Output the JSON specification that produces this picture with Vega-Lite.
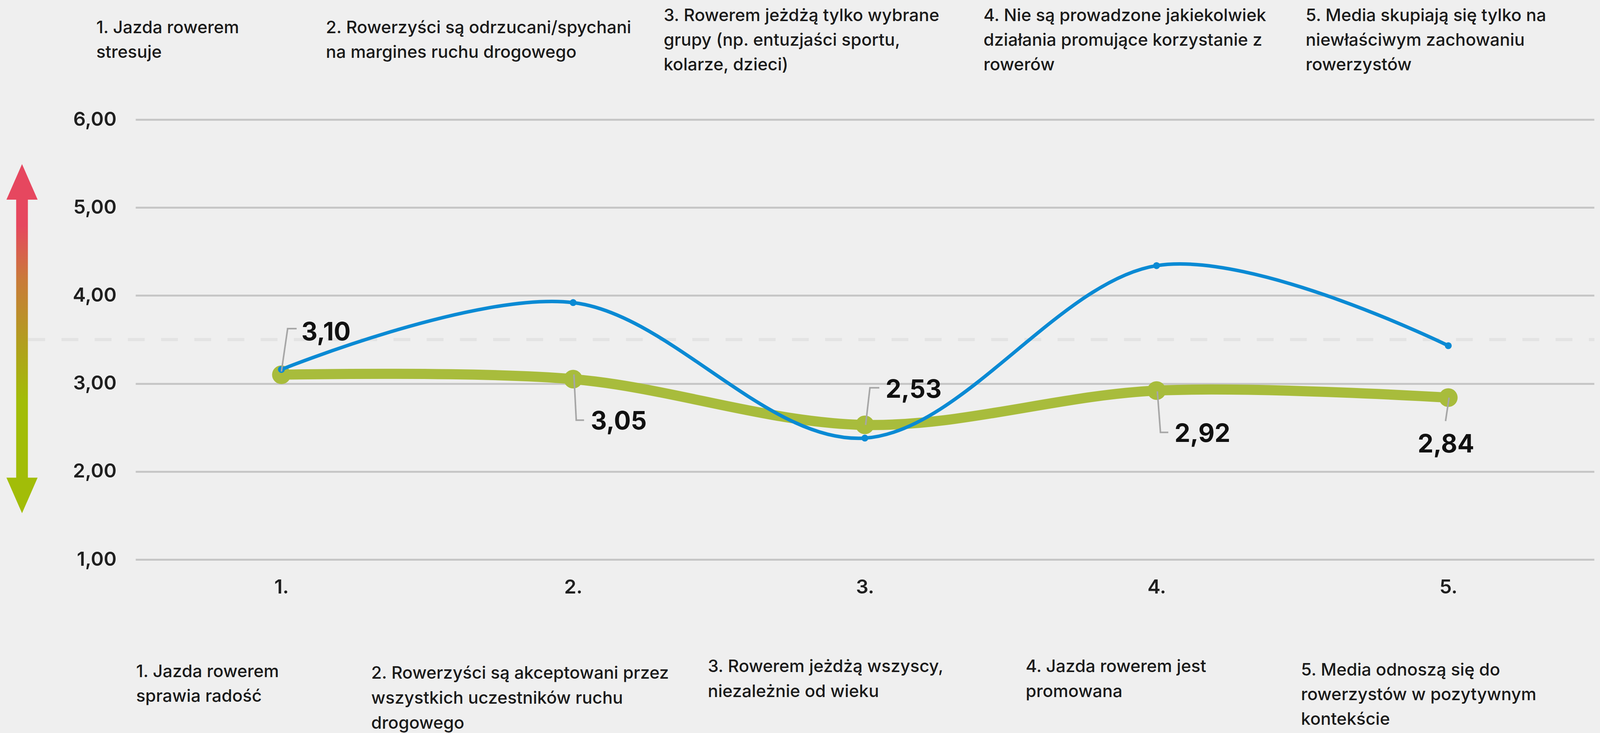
{
  "$schema": "https://vega.github.io/schema/vega-lite/v6.json",
  "width": 3734,
  "height": 1126,
  "autosize": {"type": "none"},
  "padding": {"left": 347, "top": 306, "right": 15, "bottom": 444},
  "background": "#efefef",
  "config": {
    "view": {"stroke": null},
    "font": "Inter",
    "locale": {"number": {"decimal": ",", "thousands": " ", "grouping": [3], "currency": ["", " zł"]}}
  },
  "datasets": {
    "scores": [
      {"cat": "1.", "wynik": 3.10, "porownanie": 3.16},
      {"cat": "2.", "wynik": 3.05, "porownanie": 3.92},
      {"cat": "3.", "wynik": 2.53, "porownanie": 2.38},
      {"cat": "4.", "wynik": 2.92, "porownanie": 4.34},
      {"cat": "5.", "wynik": 2.84, "porownanie": 3.43}
    ],
    "notes": [
      {"cat": "1.", "pos": "top", "text": "1. Jazda rowerem\nstresuje"},
      {"cat": "2.", "pos": "top", "text": "2. Rowerzyści są odrzucani/spychani\nna margines ruchu drogowego"},
      {"cat": "3.", "pos": "top", "text": "3. Rowerem jeżdżą tylko wybrane\ngrupy (np. entuzjaści sportu,\nkolarze, dzieci)"},
      {"cat": "4.", "pos": "top", "text": "4. Nie są prowadzone jakiekolwiek\ndziałania promujące korzystanie z\nrowerów"},
      {"cat": "5.", "pos": "top", "text": "5. Media skupiają się tylko na\nniewłaściwym zachowaniu\nrowerzystów"},
      {"cat": "1.", "pos": "bottom", "text": "1. Jazda rowerem\nsprawia radość"},
      {"cat": "2.", "pos": "bottom", "text": "2. Rowerzyści są akceptowani przez\nwszystkich uczestników ruchu\ndrogowego"},
      {"cat": "3.", "pos": "bottom", "text": "3. Rowerem jeżdżą wszyscy,\nniezależnie od wieku"},
      {"cat": "4.", "pos": "bottom", "text": "4. Jazda rowerem jest\npromowana"},
      {"cat": "5.", "pos": "bottom", "text": "5. Media odnoszą się do\nrowerzystów w pozytywnym\nkontekście"}
    ]
  },
  "layer": [
    {
      "data": {"name": "scores"},
      "mark": {"type": "line", "interpolate": "cardinal", "color": "#a8bc3c", "strokeWidth": 26, "strokeCap": "round", "opacity": 0},
      "encoding": {
        "x": {
          "field": "cat", "type": "ordinal",
          "scale": {"type": "point", "domain": ["1.", "2.", "3.", "4.", "5."], "padding": 0.5},
          "axis": {"title": null, "domain": false, "ticks": false, "tickSize": 0, "grid": false, "labelAngle": 0, "labelBaseline": "middle", "labelPadding": 71, "labelFontSize": 50, "labelFontWeight": 600, "labelColor": "#1f1f1f", "labelFont": "Inter"}
        },
        "y": {
          "field": "wynik", "type": "quantitative",
          "scale": {"domain": [1, 6], "nice": false, "zero": false},
          "axis": {"title": null, "values": [1, 2, 3, 4, 5, 6], "format": ".2f", "domain": false, "ticks": false, "tickSize": 0, "grid": true, "gridColor": "#c6c6c6", "gridWidth": 5, "labelPadding": 49, "labelFontSize": 50, "labelFontWeight": 600, "labelColor": "#1f1f1f", "labelFont": "Inter"}
        }
      }
    },
    {
      "data": {"values": [{}]},
      "mark": {"type": "rule", "color": "#e3e3e3", "strokeWidth": 8, "strokeDash": [43, 42], "xOffset": -648, "x2Offset": 374},
      "encoding": {
        "x": {"datum": "1.", "type": "ordinal"},
        "x2": {"datum": "5."},
        "y": {"datum": 3.5, "type": "quantitative"}
      }
    },
    {
      "data": {"values": [{}]},
      "mark": {
        "type": "rect", "xOffset": -679, "x2Offset": -649,
        "fill": {"gradient": "linear", "x1": 0, "y1": 0, "x2": 0, "y2": 1, "stops": [
          {"offset": 0, "color": "#e6475f"},
          {"offset": 0.1, "color": "#e6475f"},
          {"offset": 0.29, "color": "#c97a3a"},
          {"offset": 0.53, "color": "#b0a11c"},
          {"offset": 0.72, "color": "#a2bd08"},
          {"offset": 1, "color": "#a2bd08"}
        ]}
      },
      "encoding": {
        "x": {"datum": "1.", "type": "ordinal"},
        "x2": {"datum": "1."},
        "y": {"datum": 5.12, "type": "quantitative"},
        "y2": {"datum": 1.9}
      }
    },
    {
      "data": {"values": [{}]},
      "mark": {"type": "point", "shape": "M-0.877,1L0,-1L0.877,1Z", "filled": true, "opacity": 1, "size": 8281, "color": "#e6475f", "strokeWidth": 0, "xOffset": -664},
      "encoding": {
        "x": {"datum": "1.", "type": "ordinal"},
        "y": {"datum": 5.292, "type": "quantitative"}
      }
    },
    {
      "data": {"values": [{}]},
      "mark": {"type": "point", "shape": "M-0.877,-1L0,1L0.877,-1Z", "filled": true, "opacity": 1, "size": 8281, "color": "#a2bd08", "strokeWidth": 0, "xOffset": -664},
      "encoding": {
        "x": {"datum": "1.", "type": "ordinal"},
        "y": {"datum": 1.728, "type": "quantitative"}
      }
    },
    {
      "data": {"name": "scores"},
      "mark": {"type": "line", "interpolate": "cardinal", "color": "#a8bc3c", "strokeWidth": 26, "strokeCap": "round"},
      "encoding": {
        "x": {"field": "cat", "type": "ordinal"},
        "y": {"field": "wynik", "type": "quantitative"}
      }
    },
    {
      "data": {"name": "scores"},
      "mark": {"type": "circle", "size": 2290, "color": "#a8bc3c", "opacity": 1},
      "encoding": {
        "x": {"field": "cat", "type": "ordinal"},
        "y": {"field": "wynik", "type": "quantitative"}
      }
    },
    {
      "data": {"name": "scores"},
      "mark": {"type": "line", "interpolate": "cardinal", "color": "#0a8ad4", "strokeWidth": 9, "strokeCap": "round"},
      "encoding": {
        "x": {"field": "cat", "type": "ordinal"},
        "y": {"field": "porownanie", "type": "quantitative"}
      }
    },
    {
      "data": {"name": "scores"},
      "mark": {"type": "circle", "size": 314, "color": "#0a8ad4", "opacity": 1},
      "encoding": {
        "x": {"field": "cat", "type": "ordinal"},
        "y": {"field": "porownanie", "type": "quantitative"}
      }
    },
    {
      "data": {"name": "scores"},
      "transform": [{"filter": "datum.cat === '1.'"}],
      "mark": {"type": "rule", "color": "#a6a6a6", "strokeWidth": 4, "xOffset": 0, "yOffset": -8, "x2Offset": 16, "y2Offset": -118},
      "encoding": {"x": {"field": "cat", "type": "ordinal"}, "x2": {"field": "cat"}, "y": {"field": "wynik", "type": "quantitative"}, "y2": {"field": "wynik"}}
    },
    {
      "data": {"name": "scores"},
      "transform": [{"filter": "datum.cat === '1.'"}],
      "mark": {"type": "rule", "color": "#a6a6a6", "strokeWidth": 4, "xOffset": 14, "yOffset": -118, "x2Offset": 39, "y2Offset": -118},
      "encoding": {"x": {"field": "cat", "type": "ordinal"}, "x2": {"field": "cat"}, "y": {"field": "wynik", "type": "quantitative"}, "y2": {"field": "wynik"}}
    },
    {
      "data": {"name": "scores"},
      "transform": [{"filter": "datum.cat === '2.'"}],
      "mark": {"type": "rule", "color": "#a6a6a6", "strokeWidth": 4, "xOffset": 2, "yOffset": -12, "x2Offset": 8, "y2Offset": 105},
      "encoding": {"x": {"field": "cat", "type": "ordinal"}, "x2": {"field": "cat"}, "y": {"field": "wynik", "type": "quantitative"}, "y2": {"field": "wynik"}}
    },
    {
      "data": {"name": "scores"},
      "transform": [{"filter": "datum.cat === '2.'"}],
      "mark": {"type": "rule", "color": "#a6a6a6", "strokeWidth": 4, "xOffset": 6, "yOffset": 105, "x2Offset": 28, "y2Offset": 105},
      "encoding": {"x": {"field": "cat", "type": "ordinal"}, "x2": {"field": "cat"}, "y": {"field": "wynik", "type": "quantitative"}, "y2": {"field": "wynik"}}
    },
    {
      "data": {"name": "scores"},
      "transform": [{"filter": "datum.cat === '3.'"}],
      "mark": {"type": "rule", "color": "#a6a6a6", "strokeWidth": 4, "xOffset": 2, "yOffset": 0, "x2Offset": 13, "y2Offset": -95},
      "encoding": {"x": {"field": "cat", "type": "ordinal"}, "x2": {"field": "cat"}, "y": {"field": "wynik", "type": "quantitative"}, "y2": {"field": "wynik"}}
    },
    {
      "data": {"name": "scores"},
      "transform": [{"filter": "datum.cat === '3.'"}],
      "mark": {"type": "rule", "color": "#a6a6a6", "strokeWidth": 4, "xOffset": 11, "yOffset": -95, "x2Offset": 37, "y2Offset": -95},
      "encoding": {"x": {"field": "cat", "type": "ordinal"}, "x2": {"field": "cat"}, "y": {"field": "wynik", "type": "quantitative"}, "y2": {"field": "wynik"}}
    },
    {
      "data": {"name": "scores"},
      "transform": [{"filter": "datum.cat === '4.'"}],
      "mark": {"type": "rule", "color": "#a6a6a6", "strokeWidth": 4, "xOffset": 2, "yOffset": 2, "x2Offset": 10, "y2Offset": 107},
      "encoding": {"x": {"field": "cat", "type": "ordinal"}, "x2": {"field": "cat"}, "y": {"field": "wynik", "type": "quantitative"}, "y2": {"field": "wynik"}}
    },
    {
      "data": {"name": "scores"},
      "transform": [{"filter": "datum.cat === '4.'"}],
      "mark": {"type": "rule", "color": "#a6a6a6", "strokeWidth": 4, "xOffset": 8, "yOffset": 107, "x2Offset": 30, "y2Offset": 107},
      "encoding": {"x": {"field": "cat", "type": "ordinal"}, "x2": {"field": "cat"}, "y": {"field": "wynik", "type": "quantitative"}, "y2": {"field": "wynik"}}
    },
    {
      "data": {"name": "scores"},
      "transform": [{"filter": "datum.cat === '5.'"}],
      "mark": {"type": "rule", "color": "#a6a6a6", "strokeWidth": 4, "xOffset": 2, "yOffset": 0, "x2Offset": -7, "y2Offset": 60},
      "encoding": {"x": {"field": "cat", "type": "ordinal"}, "x2": {"field": "cat"}, "y": {"field": "wynik", "type": "quantitative"}, "y2": {"field": "wynik"}}
    },
    {
      "data": {"name": "scores"},
      "transform": [{"filter": "datum.cat === '1.'"}],
      "mark": {"type": "text", "align": "left", "baseline": "middle", "dx": 51, "dy": -107, "fontSize": 64, "fontWeight": "bold", "color": "#111111", "font": "Inter"},
      "encoding": {"x": {"field": "cat", "type": "ordinal"}, "y": {"field": "wynik", "type": "quantitative"}, "text": {"field": "wynik", "type": "quantitative", "format": ".2f"}}
    },
    {
      "data": {"name": "scores"},
      "transform": [{"filter": "datum.cat === '2.'"}],
      "mark": {"type": "text", "align": "left", "baseline": "middle", "dx": 45, "dy": 110, "fontSize": 64, "fontWeight": "bold", "color": "#111111", "font": "Inter"},
      "encoding": {"x": {"field": "cat", "type": "ordinal"}, "y": {"field": "wynik", "type": "quantitative"}, "text": {"field": "wynik", "type": "quantitative", "format": ".2f"}}
    },
    {
      "data": {"name": "scores"},
      "transform": [{"filter": "datum.cat === '3.'"}],
      "mark": {"type": "text", "align": "left", "baseline": "middle", "dx": 53, "dy": -88, "fontSize": 64, "fontWeight": "bold", "color": "#111111", "font": "Inter"},
      "encoding": {"x": {"field": "cat", "type": "ordinal"}, "y": {"field": "wynik", "type": "quantitative"}, "text": {"field": "wynik", "type": "quantitative", "format": ".2f"}}
    },
    {
      "data": {"name": "scores"},
      "transform": [{"filter": "datum.cat === '4.'"}],
      "mark": {"type": "text", "align": "left", "baseline": "middle", "dx": 46, "dy": 112, "fontSize": 64, "fontWeight": "bold", "color": "#111111", "font": "Inter"},
      "encoding": {"x": {"field": "cat", "type": "ordinal"}, "y": {"field": "wynik", "type": "quantitative"}, "text": {"field": "wynik", "type": "quantitative", "format": ".2f"}}
    },
    {
      "data": {"name": "scores"},
      "transform": [{"filter": "datum.cat === '5.'"}],
      "mark": {"type": "text", "align": "center", "baseline": "middle", "dx": -6, "dy": 121, "fontSize": 64, "fontWeight": "bold", "color": "#111111", "font": "Inter"},
      "encoding": {"x": {"field": "cat", "type": "ordinal"}, "y": {"field": "wynik", "type": "quantitative"}, "text": {"field": "wynik", "type": "quantitative", "format": ".2f"}}
    },
    {
      "data": {"name": "notes"},
      "transform": [{"filter": "datum.cat === '1.' && datum.pos === 'top'"}],
      "mark": {"type": "text", "align": "left", "baseline": "top", "dx": -474, "dy": -256, "fontSize": 44, "fontWeight": 500, "lineHeight": 63, "lineBreak": "\n", "color": "#1a1a1a", "font": "Inter"},
      "encoding": {"x": {"field": "cat", "type": "ordinal"}, "y": {"datum": 6, "type": "quantitative"}, "text": {"field": "text"}}
    },
    {
      "data": {"name": "notes"},
      "transform": [{"filter": "datum.cat === '2.' && datum.pos === 'top'"}],
      "mark": {"type": "text", "align": "left", "baseline": "top", "dx": -633, "dy": -256, "fontSize": 44, "fontWeight": 500, "lineHeight": 63, "lineBreak": "\n", "color": "#1a1a1a", "font": "Inter"},
      "encoding": {"x": {"field": "cat", "type": "ordinal"}, "y": {"datum": 6, "type": "quantitative"}, "text": {"field": "text"}}
    },
    {
      "data": {"name": "notes"},
      "transform": [{"filter": "datum.cat === '3.' && datum.pos === 'top'"}],
      "mark": {"type": "text", "align": "left", "baseline": "top", "dx": -515, "dy": -287, "fontSize": 44, "fontWeight": 500, "lineHeight": 63, "lineBreak": "\n", "color": "#1a1a1a", "font": "Inter"},
      "encoding": {"x": {"field": "cat", "type": "ordinal"}, "y": {"datum": 6, "type": "quantitative"}, "text": {"field": "text"}}
    },
    {
      "data": {"name": "notes"},
      "transform": [{"filter": "datum.cat === '4.' && datum.pos === 'top'"}],
      "mark": {"type": "text", "align": "left", "baseline": "top", "dx": -443, "dy": -287, "fontSize": 44, "fontWeight": 500, "lineHeight": 63, "lineBreak": "\n", "color": "#1a1a1a", "font": "Inter"},
      "encoding": {"x": {"field": "cat", "type": "ordinal"}, "y": {"datum": 6, "type": "quantitative"}, "text": {"field": "text"}}
    },
    {
      "data": {"name": "notes"},
      "transform": [{"filter": "datum.cat === '5.' && datum.pos === 'top'"}],
      "mark": {"type": "text", "align": "left", "baseline": "top", "dx": -365, "dy": -287, "fontSize": 44, "fontWeight": 500, "lineHeight": 63, "lineBreak": "\n", "color": "#1a1a1a", "font": "Inter"},
      "encoding": {"x": {"field": "cat", "type": "ordinal"}, "y": {"datum": 6, "type": "quantitative"}, "text": {"field": "text"}}
    },
    {
      "data": {"name": "notes"},
      "transform": [{"filter": "datum.cat === '1.' && datum.pos === 'bottom'"}],
      "mark": {"type": "text", "align": "left", "baseline": "top", "dx": -372, "dy": 266, "fontSize": 44, "fontWeight": 500, "lineHeight": 63, "lineBreak": "\n", "color": "#1a1a1a", "font": "Inter"},
      "encoding": {"x": {"field": "cat", "type": "ordinal"}, "y": {"datum": 1, "type": "quantitative"}, "text": {"field": "text"}}
    },
    {
      "data": {"name": "notes"},
      "transform": [{"filter": "datum.cat === '2.' && datum.pos === 'bottom'"}],
      "mark": {"type": "text", "align": "left", "baseline": "top", "dx": -517, "dy": 270, "fontSize": 44, "fontWeight": 500, "lineHeight": 64, "lineBreak": "\n", "color": "#1a1a1a", "font": "Inter"},
      "encoding": {"x": {"field": "cat", "type": "ordinal"}, "y": {"datum": 1, "type": "quantitative"}, "text": {"field": "text"}}
    },
    {
      "data": {"name": "notes"},
      "transform": [{"filter": "datum.cat === '3.' && datum.pos === 'bottom'"}],
      "mark": {"type": "text", "align": "left", "baseline": "top", "dx": -402, "dy": 253, "fontSize": 44, "fontWeight": 500, "lineHeight": 64, "lineBreak": "\n", "color": "#1a1a1a", "font": "Inter"},
      "encoding": {"x": {"field": "cat", "type": "ordinal"}, "y": {"datum": 1, "type": "quantitative"}, "text": {"field": "text"}}
    },
    {
      "data": {"name": "notes"},
      "transform": [{"filter": "datum.cat === '4.' && datum.pos === 'bottom'"}],
      "mark": {"type": "text", "align": "left", "baseline": "top", "dx": -335, "dy": 253, "fontSize": 44, "fontWeight": 500, "lineHeight": 64, "lineBreak": "\n", "color": "#1a1a1a", "font": "Inter"},
      "encoding": {"x": {"field": "cat", "type": "ordinal"}, "y": {"datum": 1, "type": "quantitative"}, "text": {"field": "text"}}
    },
    {
      "data": {"name": "notes"},
      "transform": [{"filter": "datum.cat === '5.' && datum.pos === 'bottom'"}],
      "mark": {"type": "text", "align": "left", "baseline": "top", "dx": -377, "dy": 262, "fontSize": 44, "fontWeight": 500, "lineHeight": 63, "lineBreak": "\n", "color": "#1a1a1a", "font": "Inter"},
      "encoding": {"x": {"field": "cat", "type": "ordinal"}, "y": {"datum": 1, "type": "quantitative"}, "text": {"field": "text"}}
    }
  ]
}
